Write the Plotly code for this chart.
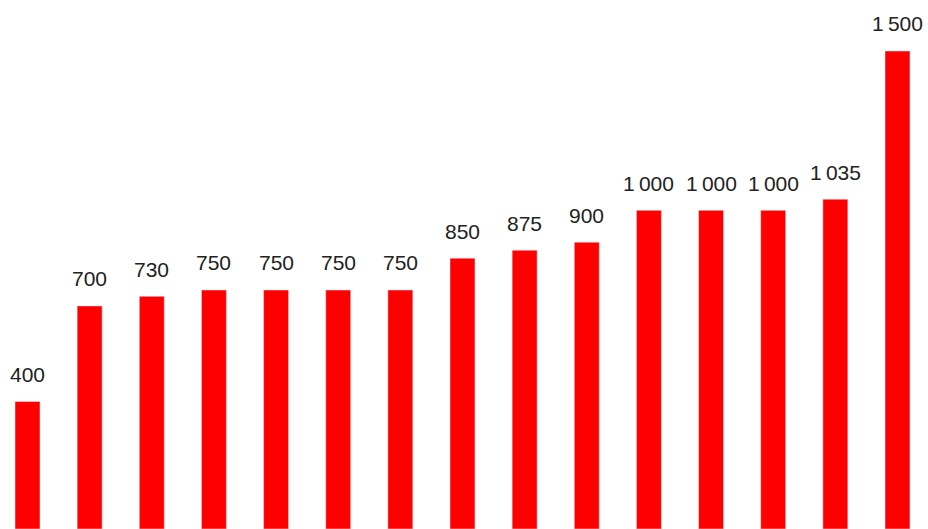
import plotly.graph_objects as go

categories = [f"c{i+1}" for i in range(15)]
values = [400, 700, 730, 750, 750, 750, 750, 850, 875, 900, 1000, 1000, 1000, 1035, 1500]
labels = [f"{v:,}".replace(",", "\u2009") for v in values]

fig = go.Figure()
fig.add_trace(go.Bar(x=list(range(len(values))), y=values, marker_color="#ff0000",
                     width=0.402, hoverinfo="skip"))

for i, (v, t) in enumerate(zip(values, labels)):
    fig.add_annotation(x=i, y=v, text=t, showarrow=False, yanchor="middle", yshift=27,
                       font=dict(family="Liberation Sans", size=21, color="#222222"))

fig.update_layout(
    width=928, height=529,
    margin=dict(l=0, r=0, t=0, b=0),
    paper_bgcolor="white", plot_bgcolor="white",
    showlegend=False,
    xaxis=dict(range=[-0.4425, 14.491], visible=False, fixedrange=True),
    yaxis=dict(range=[0, 1660], visible=False, fixedrange=True),
)
fig.write_html("out.html", config={"displayModeBar": False},
               post_script="document.body.style.margin='0';document.body.style.overflow='hidden';")
